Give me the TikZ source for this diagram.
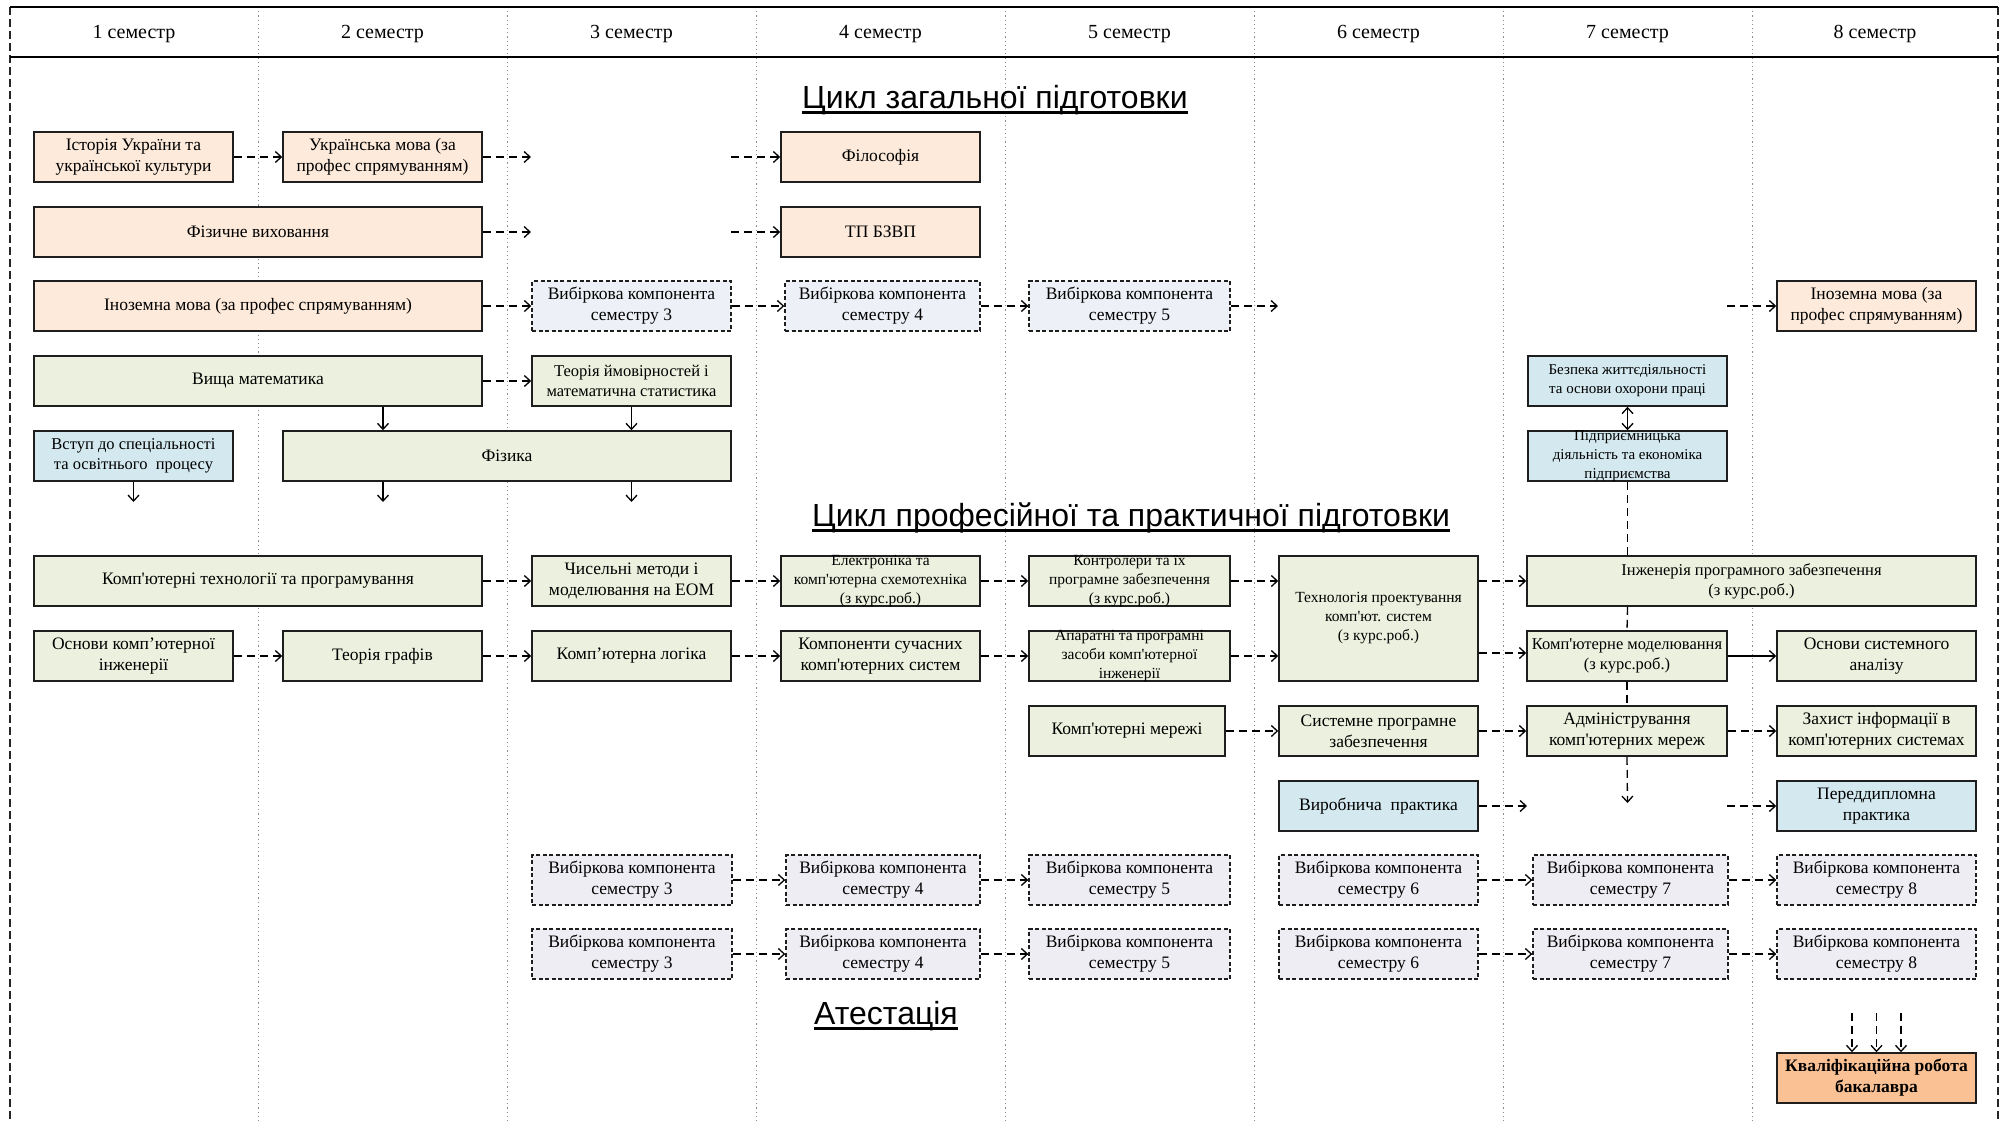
\documentclass[tikz,border=0pt]{standalone}
\usepackage{fontspec}
\newfontfamily\tnr{Liberation Serif}
\newfontfamily\hsans{Liberation Sans}
\usetikzlibrary{arrows.meta,calc}
\definecolor{peach}{HTML}{FDEADA}
\definecolor{olive}{HTML}{EBF1DE}
\definecolor{lblue}{HTML}{D3E9EF}
\definecolor{elecA}{HTML}{EDF0F6}
\definecolor{elecB}{HTML}{EEEDF3}
\definecolor{qual}{HTML}{F9C194}
\definecolor{edge}{HTML}{1E1E1E}
\definecolor{grid}{HTML}{8C8C8C}
\tikzset{
  box/.style={draw=edge, line width=1.5pt, inner sep=0pt, rectangle},
  gen/.style={box, fill=peach},
  pro/.style={box, fill=olive},
  prac/.style={box, fill=lblue},
  opt/.style={box, fill=elecA, dash pattern=on 4pt off 2.5pt, line width=1.4pt},
  optb/.style={opt, fill=elecB},
  fin/.style={box, fill=qual},
  txt/.style={inner sep=0pt, align=center, text=black, font=\tnr\fontsize{17.5}{21}\selectfont},
  smalltxt/.style={font=\tnr\fontsize{15.5}{19}\selectfont},
  tinytxt/.style={font=\tnr\fontsize{15}{19}\selectfont},
  midtxt/.style={font=\tnr\fontsize{16.5}{20}\selectfont},
  boldtxt/.style={font=\tnr\bfseries\fontsize{17.5}{21}\selectfont},
  conn/.style={draw=black, line width=1.3pt, dash pattern=on 8pt off 5pt, -{Straight Barb[length=6pt,width=11pt]}},
  plainconn/.style={draw=black, line width=1.3pt, dash pattern=on 8pt off 5pt},
  solidconn/.style={draw=black, line width=1.3pt, -{Straight Barb[length=6pt,width=11pt]}},
  semlab/.style={inner sep=0pt, anchor=base, font=\tnr\fontsize{20}{24}\selectfont},
  head/.style={inner sep=0pt, anchor=base west, font=\hsans\fontsize{32}{37}\selectfont},
  colline/.style={draw=grid, line width=1pt, dash pattern=on 1.2pt off 3pt},
  border/.style={draw=black!85, line width=1.6pt, dash pattern=on 8pt off 4pt},
}
\newcommand\bx[8][]{%
  \node[#7, minimum width=#5pt-#3pt, minimum height=#6pt-#4pt] (#2) at ({(#3+#5)/2},{(#4+#6)/2}) {};
  \node[txt,#1] (#2-t) at (#2.center) {#8};}
\begin{document}
\begin{tikzpicture}[x=1pt,y=-1pt]
\useasboundingbox (0,0) rectangle (2007,1122);
\fill[white] (0,0) rectangle (2007,1122);
% column separators
\foreach \cx in {258,507,756,1005,1254,1503,1752}
  \draw[colline] (\cx,7) -- (\cx,1122);
% frame
\draw[border] (10,7) -- (10,1122);
\draw[border] (1998,7) -- (1998,1122);
\draw[line width=2pt] (10,7) -- (1998,7);
\draw[line width=1.6pt] (10,57) -- (1998,57);
% semester labels
\foreach \i/\cx in {1/134,2/382.5,3/631.5,4/880.5,5/1129.5,6/1378.5,7/1627.5,8/1875}
  \node[semlab] (sem\i) at (\cx,38) {\i\ семестр};
% headings
\node[head] (h1) at (802,108) {Цикл загальної підготовки};
\draw[line width=2.2pt] ([yshift=-4.5pt]h1.base west) -- ([yshift=-4.5pt]h1.base east);
\node[head] (h2) at (812,526) {Цикл професійної та практичної підготовки};
\draw[line width=2.2pt] ([yshift=-4.5pt]h2.base west) -- ([yshift=-4.5pt]h2.base east);
\node[head] (h3) at (814,1024) {Атестація};
\draw[line width=2.2pt] ([yshift=-4.5pt]h3.base west) -- ([yshift=-4.5pt]h3.base east);

% general cycle
\bx{hist}{34}{132}{233}{182}{gen}{Історія України та\\української культури}
\bx{ukr}{283}{132}{482}{182}{gen}{Українська мова (за\\профес спрямуванням)}
\bx{phil}{781}{132}{980}{182}{gen}{Філософія}
\bx{pe}{34}{207}{482}{257}{gen}{Фізичне виховання}
\bx{tp}{781}{207}{980}{257}{gen}{ТП БЗВП}
\bx{forl}{34}{281}{482}{331}{gen}{Іноземна мова (за профес спрямуванням)}
\bx{vA3}{532}{281}{731}{331}{opt}{Вибіркова компонента\\семестру 3}
\bx{vA4}{785}{281}{980}{331}{opt}{Вибіркова компонента\\семестру 4}
\bx{vA5}{1029}{281}{1230}{331}{opt}{Вибіркова компонента\\семестру 5}
\bx{forl8}{1777}{281}{1976}{331}{gen}{Іноземна мова (за\\профес спрямуванням)}
\bx{math}{34}{356}{482}{406}{pro}{Вища математика}
\bx[midtxt]{prob}{532}{356}{731}{406}{pro}{Теорія ймовірностей і\\математична статистика}
\bx[tinytxt]{bzh}{1528}{356}{1727}{406}{prac}{Безпека життєдіяльності\\та основи охорони праці}
\bx[midtxt]{intro}{34}{431}{233}{481}{prac}{Вступ до спеціальності\\та освітнього\ \ процесу}
\bx{phys}{283}{431}{731}{481}{pro}{Фізика}
\bx[tinytxt]{entr}{1528}{431}{1727}{481}{prac}{Підприємницька\\діяльність та економіка\\підприємства}

% professional cycle
\bx{cst}{34}{556}{482}{606}{pro}{Комп'ютерні технології та програмування}
\bx{num}{532}{556}{731}{606}{pro}{Чисельні методи і\\моделювання на ЕОМ}
\bx[smalltxt]{elc}{781}{556}{980}{606}{pro}{Електроніка та\\комп'ютерна схемотехніка\\(з курс.роб.)}
\bx[smalltxt]{ctrl}{1029}{556}{1230}{606}{pro}{Контролери та їх\\програмне забезпечення\\(з курс.роб.)}
\bx[smalltxt]{tech}{1279}{556}{1478}{681}{pro}{Технологія проектування\\комп'ют. систем\\(з курс.роб.)}
\bx[midtxt]{swe}{1527}{556}{1976}{606}{pro}{Інженерія програмного забезпечення\\(з курс.роб.)}
\bx{bce}{34}{631}{233}{681}{pro}{Основи комп’ютерної\\інженерії}
\bx{graph}{283}{631}{482}{681}{pro}{Теорія графів}
\bx{logic}{532}{631}{731}{681}{pro}{Комп’ютерна логіка}
\bx{comp}{781}{631}{980}{681}{pro}{Компоненти сучасних\\комп'ютерних систем}
\bx[smalltxt]{hw}{1029}{631}{1230}{681}{pro}{Апаратні та програмні\\засоби комп'ютерної\\інженерії}
\bx[midtxt]{model}{1527}{631}{1727}{681}{pro}{Комп'ютерне моделювання\\(з курс.роб.)}
\bx{sa}{1777}{631}{1976}{681}{pro}{Основи системного\\аналізу}
\bx{net}{1029}{706}{1225}{756}{pro}{Комп'ютерні мережі}
\bx{sys}{1279}{706}{1478}{756}{pro}{Системне програмне\\забезпечення}
\bx{adm}{1527}{706}{1727}{756}{pro}{Адміністрування\\комп'ютерних мереж}
\bx{sec}{1777}{706}{1976}{756}{pro}{Захист інформації в\\комп'ютерних системах}
\bx{prod}{1279}{781}{1478}{831}{prac}{Виробнича\ \ практика}
\bx{pre}{1777}{781}{1976}{831}{prac}{Переддипломна\\практика}

% electives
\bx{eA3}{532}{855}{732}{905}{optb}{Вибіркова компонента\\семестру 3}
\bx{eA4}{786}{855}{980}{905}{optb}{Вибіркова компонента\\семестру 4}
\bx{eA5}{1029}{855}{1230}{905}{optb}{Вибіркова компонента\\семестру 5}
\bx{eA6}{1279}{855}{1478}{905}{optb}{Вибіркова компонента\\семестру 6}
\bx{eA7}{1533}{855}{1728}{905}{optb}{Вибіркова компонента\\семестру 7}
\bx{eA8}{1777}{855}{1976}{905}{optb}{Вибіркова компонента\\семестру 8}
\bx{eB3}{532}{929}{732}{979}{optb}{Вибіркова компонента\\семестру 3}
\bx{eB4}{786}{929}{980}{979}{optb}{Вибіркова компонента\\семестру 4}
\bx{eB5}{1029}{929}{1230}{979}{optb}{Вибіркова компонента\\семестру 5}
\bx{eB6}{1279}{929}{1478}{979}{optb}{Вибіркова компонента\\семестру 6}
\bx{eB7}{1533}{929}{1728}{979}{optb}{Вибіркова компонента\\семестру 7}
\bx{eB8}{1777}{929}{1976}{979}{optb}{Вибіркова компонента\\семестру 8}
\bx[boldtxt]{qw}{1777}{1053}{1976}{1103}{fin}{Кваліфікаційна робота\\бакалавра}

% free ends
\coordinate (f1) at (531,157);  \coordinate (s1) at (731,157);
\coordinate (f2) at (531,232);  \coordinate (s2) at (731,232);
\coordinate (f3) at (1278,306);   \coordinate (s3) at (1727,306);
\coordinate (f5) at (1527,806);   \coordinate (s5) at (1727,806);
\coordinate (dIntro) at (133.5,502);
\coordinate (dPh1) at (383,502);
\coordinate (dPh2) at (631.5,502);
\coordinate (dAdm) at (1627.5,803);
\coordinate (q1) at (1852,1013);
\coordinate (q2) at (1876.5,1013);
\coordinate (q3) at (1901,1013);

% general connectors
\draw[conn] (hist) -- (ukr);
\draw[conn] (ukr) -- (f1);
\draw[conn] (s1) -- (phil);
\draw[conn] (pe) -- (f2);
\draw[conn] (s2) -- (tp);
\draw[conn] (forl) -- (vA3);
\draw[conn] (vA3) -- (vA4);
\draw[conn] (vA4) -- (vA5);
\draw[conn] (vA5) -- (f3);
\draw[conn] (s3) -- (forl8);
\draw[conn] (math) -- (prob);
\draw[solidconn] (math.south -| dPh1) -- (phys.north -| dPh1);
\draw[solidconn] (prob.south) -- (phys.north -| prob.south);
\draw[solidconn] (intro.south) -- (dIntro);
\draw[solidconn] (phys.south -| dPh1) -- (dPh1);
\draw[solidconn] (phys.south -| dPh2) -- (dPh2);
\draw[solidconn, {Straight Barb[length=6pt,width=11pt]}-{Straight Barb[length=6pt,width=11pt]}] (bzh.south) -- (entr.north);
\draw[plainconn] (entr.south) -- (entr.south |- swe.north);
\draw[plainconn] (entr.south |- swe.south) -- (model.north);
\draw[plainconn] (model.south) -- (adm.north);
\draw[conn] (adm.south) -- (dAdm);

% professional connectors
\draw[conn] (cst) -- (num);
\draw[conn] (num) -- (elc);
\draw[conn] (elc) -- (ctrl);
\draw[conn] (ctrl.east) -- (ctrl.east -| tech.west);
\draw[conn] (tech.east |- swe.west) -- (swe.west);
\draw[conn] (bce) -- (graph);
\draw[conn] (graph) -- (logic);
\draw[conn] (logic) -- (comp);
\draw[conn] (comp) -- (hw);
\draw[conn] (hw.east) -- (hw.east -| tech.west);
\draw[conn] ([yshift=3pt]tech.east |- model.west) -- ([yshift=3pt]model.west);
\draw[solidconn] (model) -- (sa);
\draw[conn] (net) -- (sys);
\draw[conn] (sys) -- (adm);
\draw[conn] (adm) -- (sec);
\draw[conn] (prod) -- (f5);
\draw[conn] (s5) -- (pre);

% elective connectors
\draw[conn] (eA3) -- (eA4);
\draw[conn] (eA4) -- (eA5);
\draw[conn] (eA6) -- (eA7);
\draw[conn] (eA7) -- (eA8);
\draw[conn] (eB3) -- (eB4);
\draw[conn] (eB4) -- (eB5);
\draw[conn] (eB6) -- (eB7);
\draw[conn] (eB7) -- (eB8);
\draw[conn] (q1) -- (q1 |- qw.north);
\draw[conn] (q2) -- (qw.north);
\draw[conn] (q3) -- (q3 |- qw.north);
\end{tikzpicture}
\end{document}
